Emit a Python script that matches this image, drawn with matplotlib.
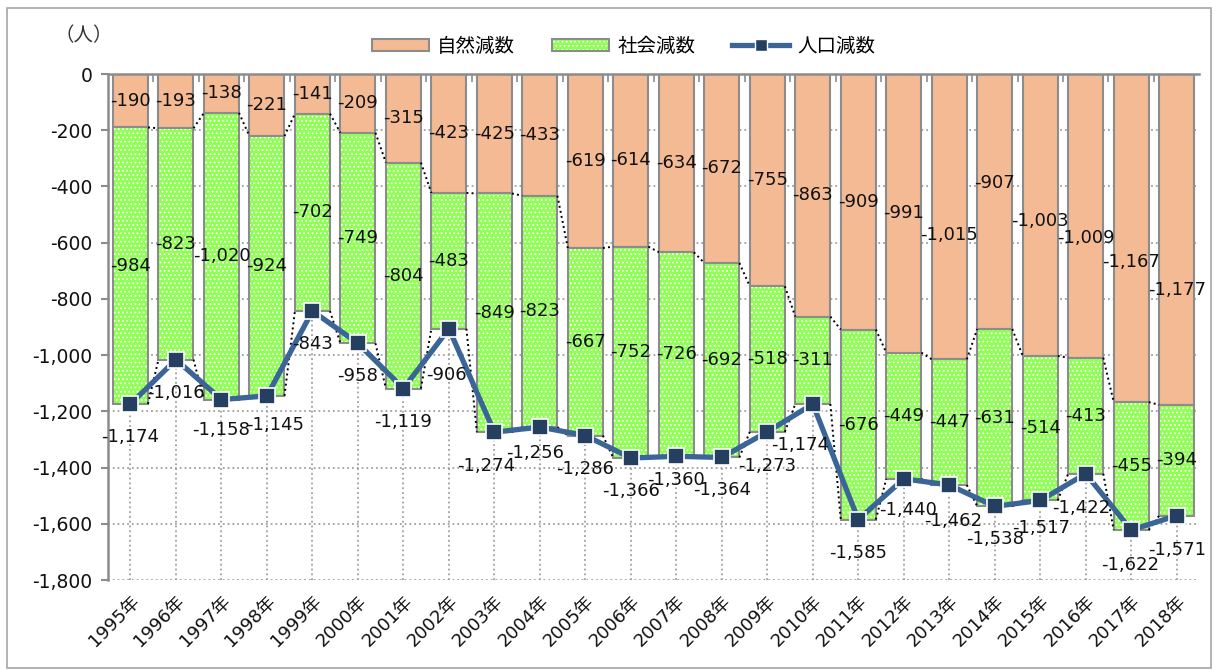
import matplotlib.pyplot as plt
import matplotlib.patches as mpatches
from matplotlib.lines import Line2D
from matplotlib.legend_handler import HandlerTuple
import numpy as np

plt.rcParams['font.family'] = ['DejaVu Sans', 'Noto Sans CJK JP']
plt.rcParams['hatch.linewidth'] = 0.8

# data
years = [f"{y}年" for y in range(1995, 2019)]
natural = [-190, -193, -138, -221, -141, -209, -315, -423, -425, -433, -619, -614,
           -634, -672, -755, -863, -909, -991, -1015, -907, -1003, -1009, -1167, -1177]
social = [-984, -823, -1020, -924, -702, -749, -804, -483, -849, -823, -667, -752,
          -726, -692, -518, -311, -676, -449, -447, -631, -514, -413, -455, -394]
total = [-1174, -1016, -1158, -1145, -843, -958, -1119, -906, -1274, -1256, -1286, -1366,
         -1360, -1364, -1273, -1174, -1585, -1440, -1462, -1538, -1517, -1422, -1622, -1571]

# label nudges (pixels)
nat_dy = [0] * 18 + [-18, 18, -6, -22, -24, -51]
tot_off = {2: (0, -30), 3: (8, -29), 7: (-2, -46), 8: (-8, -34), 9: (-5, -26),
           12: (0, -24), 14: (0, -34), 15: (-13, -41), 17: (4, -31), 18: (4, -36),
           20: (1, -28), 21: (-5, -34), 22: (-1, -35), 23: (0, -34)}

orange = '#F4BA94'
green = '#8FFF55'
edge = '#8C8C8C'
line_c = '#3A6596'
mark_c = '#243F60'
txt_c = '#111111'

fig = plt.figure(figsize=(12.16, 6.71), dpi=100)
ax = fig.add_axes([0.0886, 0.1356, 0.8978, 0.7541])
fig.patches.append(mpatches.Rectangle((0.006, 0.004), 0.99, 0.984, transform=fig.transFigure,
                                      fill=False, edgecolor='#A6A6A6', lw=1.2))

x = np.arange(len(years))
w = 0.77
nat = np.array(natural)
soc = np.array(social)

ax.bar(x, nat, w, color=orange, edgecolor=edge, lw=1.5, zorder=2)
ax.bar(x, soc, w, bottom=nat, color=green, edgecolor='white', lw=0, hatch='....', zorder=2)
ax.bar(x, soc, w, bottom=nat, fill=False, edgecolor=edge, lw=1.5, zorder=2.1)

# series lines
for i in range(len(x) - 1):
    ax.plot([x[i] + w / 2, x[i + 1] - w / 2], [nat[i], nat[i + 1]], ls=':', color='black', lw=1.4, zorder=2.2)
    ax.plot([x[i] + w / 2, x[i + 1] - w / 2], [total[i], total[i + 1]], ls=':', color='black', lw=1.4, zorder=2.2)

ax.plot(x, total, color=line_c, lw=3.8, marker='s', ms=11.5, mfc=mark_c, mec='white', mew=1.2, zorder=4)

fs = 13
for i in range(len(x)):
    ax.annotate(f"{natural[i]:,}", (x[i], nat[i] / 2), xytext=(0, nat_dy[i]), textcoords='offset pixels',
                ha='center', va='center', fontsize=fs, color=txt_c, zorder=5)
    ax.annotate(f"{social[i]:,}", (x[i], nat[i] + soc[i] / 2), ha='center', va='center',
                fontsize=fs, color=txt_c, zorder=5)
    dx, dy = tot_off.get(i, (0, -33))
    ax.annotate(f"{total[i]:,}", (x[i], total[i]), xytext=(dx, dy), textcoords='offset pixels',
                ha='center', va='center', fontsize=fs, color=txt_c, zorder=5)

ax.set_xlim(-0.5, len(years) - 0.5)
ax.set_ylim(-1800, 0)
yt = list(range(0, -1801, -200))
ax.set_yticks(yt)
ax.set_yticklabels([f"{v:,}" for v in yt], fontsize=13.5, color=txt_c)
ax.set_xticks(x)
ax.set_xticklabels(years, rotation=45, ha='right', va='top', rotation_mode='anchor', fontsize=13, color=txt_c)
ax.tick_params(axis='x', length=0, pad=9)
ax.tick_params(axis='y', length=5, color=edge, width=1.5, pad=6)
ax.set_xticks(np.arange(0.5, len(years) - 1, 1), minor=True)
ax.tick_params(axis='x', which='minor', top=True, bottom=False, direction='in', length=6, color=edge, width=1.2)

ax.grid(axis='both', ls=':', color='#A0A0A0', lw=1.3, zorder=0)
ax.set_axisbelow(True)
for s in ['right', 'bottom']:
    ax.spines[s].set_visible(False)
ax.spines['left'].set_color(edge)
ax.spines['left'].set_linewidth(1.8)
ax.spines['top'].set_color(edge)
ax.spines['top'].set_linewidth(1.8)

fig.text(0.069, 0.947, '（人）', fontsize=14, ha='center', va='center', color='#333333')

h_nat = mpatches.Patch(facecolor=orange, edgecolor=edge, lw=1.5)
h_soc = (mpatches.Patch(facecolor=green, edgecolor='white', lw=0, hatch='....'),
         mpatches.Patch(fill=False, edgecolor=edge, lw=1.5))
h_tot = Line2D([], [], color=line_c, lw=3.8, marker='s', ms=8, mfc=mark_c, mec='white')
fig.legend([h_nat, h_soc, h_tot], ['自然減数', '社会減数', '人口減数'],
           handler_map={tuple: HandlerTuple(ndivide=1, pad=0)},
           loc='center', bbox_to_anchor=(0.513, 0.931), ncol=3, frameon=False, fontsize=14,
           handlelength=2.9, handleheight=0.6, handletextpad=0.45, columnspacing=1.9)

fig.savefig('out.png', dpi=100)
